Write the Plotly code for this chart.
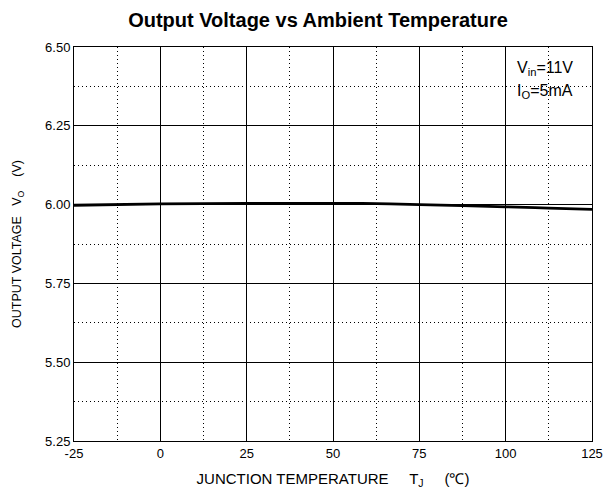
import plotly.graph_objects as go

temps = [-25, 0, 25, 50, 62.5, 75, 100, 112.5, 125]
vout = [5.998, 6.002, 6.004, 6.004, 6.003, 6.000, 5.993, 5.989, 5.985]

x_ticks = [-25, 0, 25, 50, 75, 100, 125]
y_ticks = [5.25, 5.50, 5.75, 6.00, 6.25, 6.50]
y_tick_labels = ["5.25", "5.50", "5.75", "6.00", "6.25", "6.50"]

W, H = 604, 498
L, R, T, B = 74, 12, 47, 57

fig = go.Figure()
fig.add_trace(go.Scatter(x=temps, y=vout, mode="lines",
                         line=dict(color="black", width=2.8, shape="spline"),
                         showlegend=False, hoverinfo="skip"))

font = "Liberation Sans, Arial, sans-serif"
fig.update_layout(
    width=W, height=H,
    margin=dict(l=L, r=R, t=T, b=B, autoexpand=False),
    paper_bgcolor="white", plot_bgcolor="white",
    font=dict(family=font, color="black", size=13),
    title=dict(text="<b>Output Voltage vs Ambient Temperature</b>",
               x=318 / W, xanchor="center", y=1 - 20 / H, yanchor="middle",
               font=dict(size=20, family=font, color="black")),
)
fig.update_xaxes(
    automargin=False,
    range=[-25, 125], tickvals=x_ticks, ticktext=[str(v) for v in x_ticks],
    showgrid=True, gridcolor="black", gridwidth=1,
    showline=True, linecolor="black", linewidth=1, mirror=True,
    zeroline=False, ticks="", ticklen=0,
    minor=dict(tickvals=[-12.5, 12.5, 37.5, 62.5, 87.5, 112.5], showgrid=True,
               gridcolor="black", gridwidth=1, griddash="1px,3px", ticks=""),
    title=dict(text="JUNCTION TEMPERATURE     T<sub>J</sub>     (℃)", font=dict(size=15), standoff=13),
    tickfont=dict(size=13),
)
fig.update_yaxes(
    automargin=False,
    range=[5.25, 6.50], tickvals=y_ticks, ticktext=y_tick_labels,
    showgrid=True, gridcolor="black", gridwidth=1,
    showline=True, linecolor="black", linewidth=1, mirror=True,
    zeroline=False, ticks="", ticklen=0,
    minor=dict(tickvals=[5.375, 5.625, 5.875, 6.125, 6.375], showgrid=True,
               gridcolor="black", gridwidth=1, griddash="1px,3px", ticks=""),
    title=dict(text="OUTPUT VOLTAGE   V<sub>O</sub>    (V)", font=dict(size=12.5), standoff=20),
    tickfont=dict(size=13),
)
fig.add_annotation(text="V<sub>in</sub>=11V", xref="x", yref="y",
                   x=102.8, y=6.432, xanchor="left", yanchor="middle", showarrow=False,
                   font=dict(size=16, family=font, color="black"))
fig.add_annotation(text="I<sub>O</sub>=5mA", xref="x", yref="y",
                   x=102.8, y=6.359, xanchor="left", yanchor="middle", showarrow=False,
                   font=dict(size=16, family=font, color="black"))
fig.write_html("out.html", config={"displayModeBar": False},
               post_script="document.body.style.margin='0';document.body.style.overflow='hidden';")
